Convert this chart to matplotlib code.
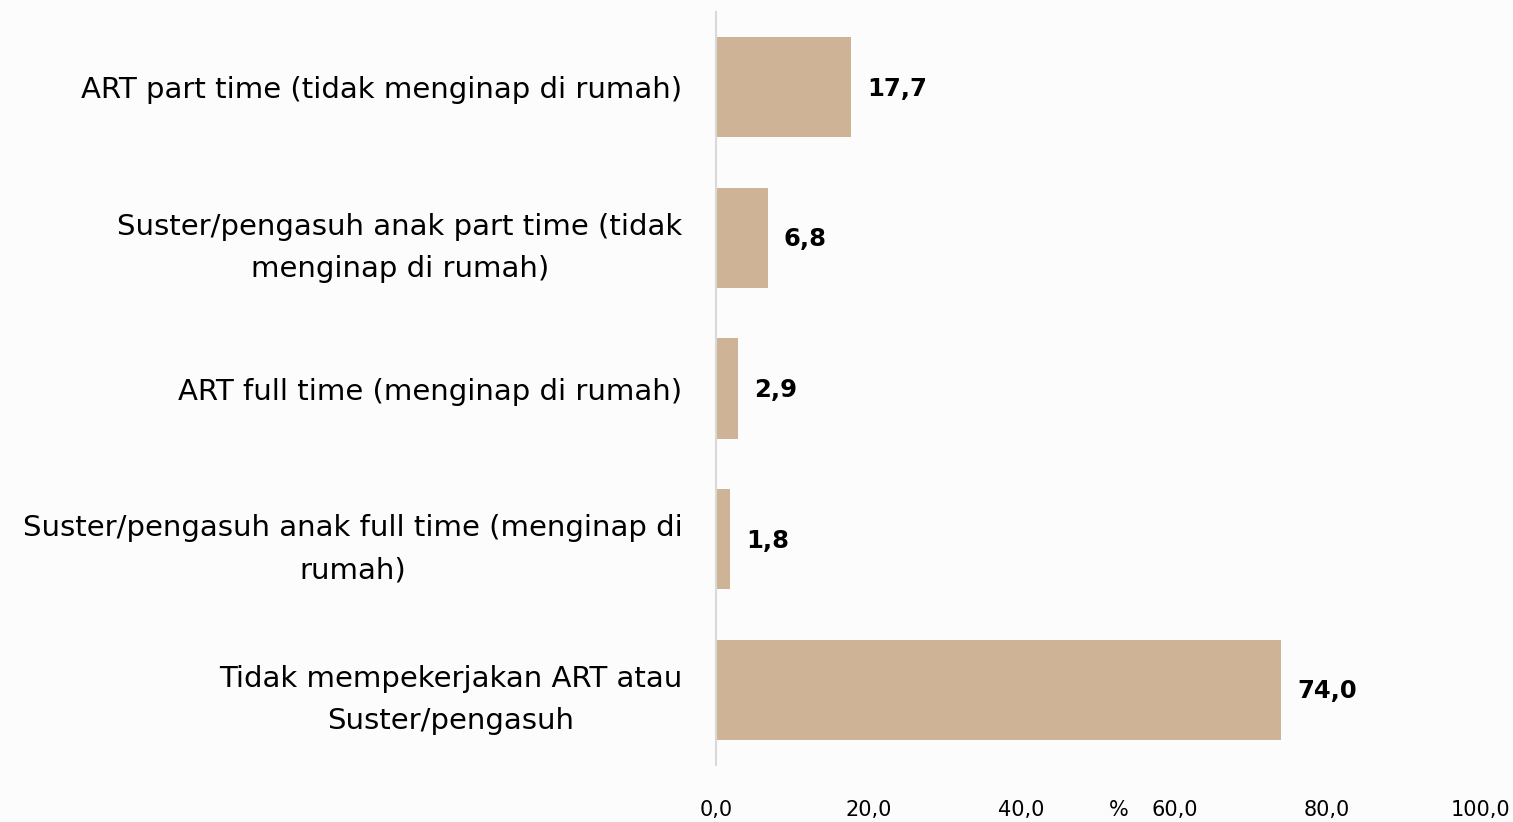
import numpy as np
import matplotlib.pyplot as plt
from matplotlib.transforms import blended_transform_factory

categories = [
    "ART part time (tidak menginap di rumah)",
    "Suster/pengasuh anak part time (tidak\nmenginap di rumah)",
    "ART full time (menginap di rumah)",
    "Suster/pengasuh anak full time (menginap di\nrumah)",
    "Tidak mempekerjakan ART atau\nSuster/pengasuh",
]
values = [17.7, 6.8, 2.9, 1.8, 74.0]
xticks = [0, 20, 40, 60, 80, 100]

plt.rcParams['font.family'] = ['DejaVu Sans']

bg = '#fcfcfc'
fig = plt.figure(figsize=(15.13, 8.22), dpi=100, facecolor=bg)
ax = fig.add_axes([0.4732, 0.0693, 0.5050, 0.9161], facecolor=bg)

y = np.arange(len(categories))
ax.barh(y, values, height=0.665, color='#cfb397')

# value labels right of each bar
for yi, v in zip(y, values):
    ax.text(v + 2.1, yi + 0.01, f"{v:.1f}".replace('.', ','), va='center', ha='left',
            fontsize=17.5, fontweight='bold', color='black')

ax.set_xlim(0, 100)
ax.set_ylim(len(categories) - 0.5, -0.5)
ax.set_yticks(y)
ax.set_yticklabels(categories, fontsize=21, ha='right', multialignment='center',
                   linespacing=1.65)
ax.set_xticks(xticks)
ax.set_xticklabels([f"{t:.1f}".replace('.', ',') for t in xticks], fontsize=15)
ax.tick_params(axis='y', length=0, pad=24)
ax.tick_params(axis='x', length=0, pad=25)

trans = blended_transform_factory(ax.transData, ax.transAxes)
ax.text(52.7, -0.0464, "%", transform=trans, ha='center', va='top', fontsize=15,
        color='black')

for s in ['top', 'right', 'bottom']:
    ax.spines[s].set_visible(False)
ax.spines['left'].set_color('#d9d9d9')
ax.spines['left'].set_linewidth(1.5)

fig.savefig('out.png', dpi=100, facecolor=bg)
